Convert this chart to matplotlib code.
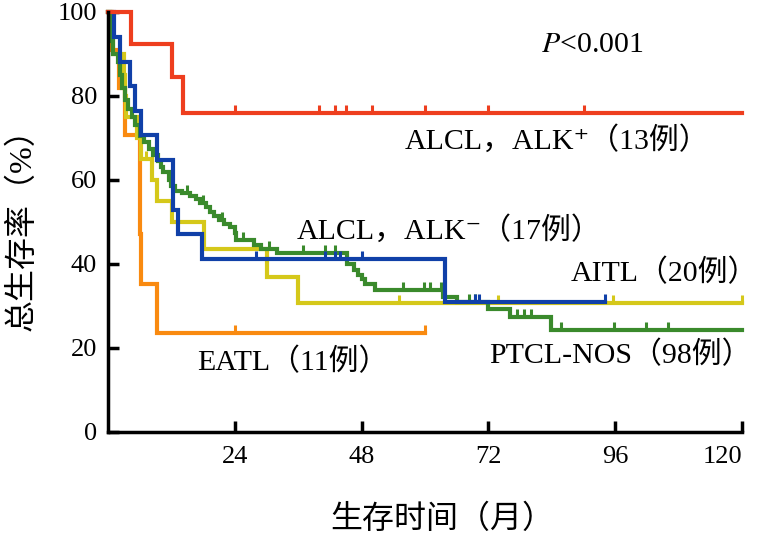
import numpy as np
import matplotlib
matplotlib.use("Agg")
import matplotlib.pyplot as plt

plt.rcParams['font.family'] = ['Liberation Serif', 'Noto Sans CJK SC', 'DejaVu Sans']
plt.rcParams['mathtext.fontset'] = 'stix'

# Kaplan-Meier steps: (months, survival %)
red_t = [0, 4.3, 12.1, 14.2]
red_s = [100, 92.3, 84.6, 76.0]
red_cens = [24, 40, 43, 45, 50, 60, 72, 90]
red_end = 120

orange_t = [0, 0.8, 2.1, 3.2, 6.0, 6.3, 9.2]
orange_s = [100, 90.9, 81.8, 70.6, 47.1, 35.3, 23.5]
orange_cens = [24, 60]
orange_end = 60

yellow_t = [0, 0.5, 1.0, 3.0, 3.2, 3.4, 5.5, 6.2, 8.4, 9.2, 12.2, 18.1, 30.0, 36.0]
yellow_s = [100, 95, 90, 85, 80, 75, 70, 65, 60, 55, 50, 43.5, 37.0, 30.8]
yellow_cens = [7.1, 55.1, 73.8, 95.5, 120]
yellow_end = 120

green_t = [0, 0.3, 0.6, 1.0, 1.8, 2.2, 2.6, 3.2, 3.8, 4.5, 5.2, 6.0, 6.8, 7.8, 8.6,
           9.5, 10.0, 10.4, 11.5, 12.0, 12.7, 14.0, 15.5, 16.6, 17.5, 18.5, 19.3, 20.0,
           21.0, 22.0, 23.0, 24.0, 24.3, 27.6, 29.0, 32.0, 45.3, 46.5, 47.3, 48.0, 48.7,
           50.6, 63.5, 66.0, 71.9, 76.0, 83.9]
green_s = [100, 96, 93, 90, 88, 85, 82, 79, 77, 75, 73, 70.5, 69, 67.5, 66,
           64.5, 63, 62, 60, 58.5, 57.5, 57, 56.3, 55.5, 54.5, 53.5, 52.5, 51.5,
           50.5, 49.5, 48.8, 47.3, 45.8, 44.6, 43.5, 42.6, 40.0, 38.6, 37.5, 36.5, 35.3,
           33.8, 32.2, 31.0, 29.4, 27.5, 24.4]
green_cens = [15.0, 18.0, 21.5, 25.5, 30.5, 36.9, 41.0, 42.9, 55.8, 59.9, 61.0, 63.0,
              68.4, 69.4, 77.5, 78.8, 80.1, 85.8, 95.8, 101.8, 105.9]
green_end = 120

blue_t = [0, 1.1, 2.3, 4.2, 5.2, 6.2, 9.2, 12.3, 13.2, 17.8, 63.7]
blue_s = [100, 94.1, 88.2, 82.4, 76.5, 70.6, 64.7, 52.9, 47.1, 41.2, 30.9]
blue_cens = [28.1, 41.1, 42.9, 43.9, 48.0, 69.4, 70.3, 94]
blue_end = 94

x_ticks = [24, 48, 72, 96, 120]
y_ticks = [0, 20, 40, 60, 80, 100]

groups = [
    (orange_t, orange_s, orange_cens, orange_end, '#F98A10'),
    (yellow_t, yellow_s, yellow_cens, yellow_end, '#D5C81A'),
    (green_t, green_s, green_cens, green_end, '#3A8A2C'),
    (blue_t, blue_s, blue_cens, blue_end, '#1040A8'),
    (red_t, red_s, red_cens, red_end, '#EE3E1E'),
]

fig = plt.figure(figsize=(7.64, 5.44), dpi=100)
ax = fig.add_axes([108 / 764, 112 / 544, 634 / 764, 420 / 544])

for t, s, cens, end, color in groups:
    tt = list(t) + [end]
    ss = list(s) + [s[-1]]
    ax.step(tt, ss, where='post', color=color, lw=3, clip_on=False,
            solid_joinstyle='miter')
    # censoring ticks
    idx = np.searchsorted(t, cens, side='right') - 1
    ys = np.array(s)[idx]
    ax.vlines(cens, ys, ys + 1.9, color=color, lw=2.2, clip_on=False)

ax.set_xlim(0, 120)
ax.set_ylim(0, 100)
ax.set_xticks(x_ticks)
ax.set_yticks(y_ticks)
ax.spines['top'].set_visible(False)
ax.spines['right'].set_visible(False)
ax.spines['left'].set_linewidth(2.5)
ax.spines['bottom'].set_linewidth(2.5)
ax.tick_params(direction='in', length=8, width=2.5, labelsize=19)
ax.tick_params(axis='x', pad=10)
ax.tick_params(axis='y', pad=8)
# last x label sits inside the figure edge
ax.get_xticklabels()[-1].set_ha('right')

fs = 21.5
ax.text(82.0, 92.1, r'$P$<0.001', fontsize=fs, va='center', ha='left')
ax.text(56.1, 69.5, 'ALCL，ALK⁺（13例）', fontsize=fs, va='center', ha='left')
ax.text(35.7, 48.1, 'ALCL，ALK⁻（17例）', fontsize=fs, va='center', ha='left')
ax.text(87.6, 37.9, 'AITL（20例）', fontsize=fs, va='center', ha='left')
ax.text(72.2, 18.3, 'PTCL-NOS（98例）', fontsize=fs, va='center', ha='left')
ax.text(16.8, 16.7, 'EATL（11例）', fontsize=fs, va='center', ha='left')

fig.text(442 / 764, 1 - 520 / 544, '生存时间（月）', fontsize=23, ha='center', va='center')
fig.text(22 / 764, 1 - 222 / 544, '总生存率（%）', fontsize=23, ha='center', va='center',
         rotation=90)

plt.savefig('out.png', dpi=100)
